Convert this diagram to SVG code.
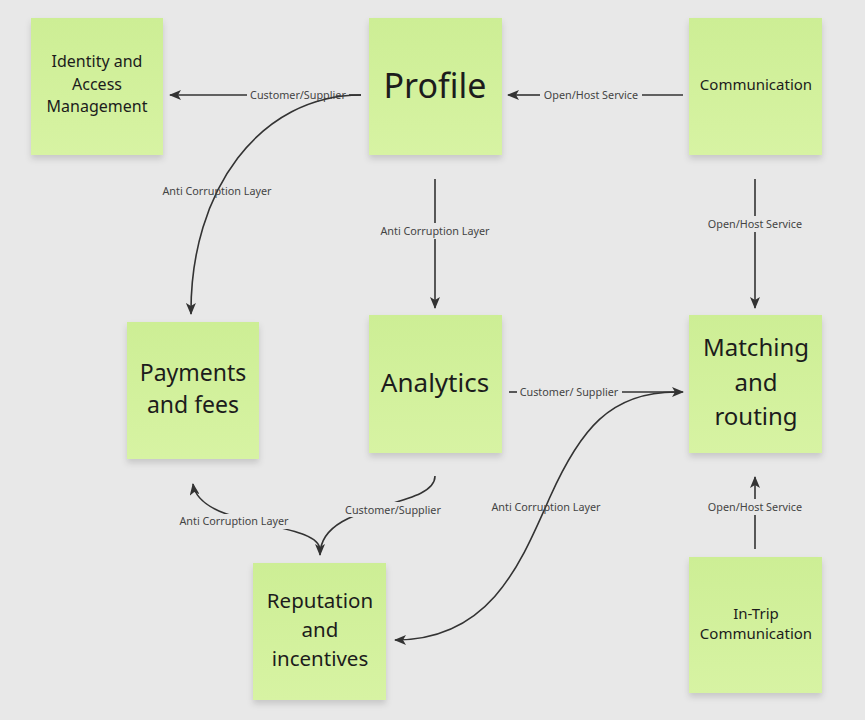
<svg xmlns="http://www.w3.org/2000/svg" width="865" height="720" viewBox="0 0 865 720">
<defs>
<linearGradient id="sg" x1="0" y1="0" x2="0" y2="1">
<stop offset="0" stop-color="#cdee95"/>
<stop offset="1" stop-color="#d7f3a3"/>
</linearGradient>
<filter id="sh" x="-20%" y="-20%" width="140%" height="150%">
<feDropShadow dx="0" dy="4" stdDeviation="3" flood-color="#000" flood-opacity="0.14"/>
</filter>
<marker id="ah" viewBox="0 0 12 10" refX="11" refY="5" markerWidth="12" markerHeight="10" markerUnits="userSpaceOnUse" orient="auto">
<path d="M0,0 L12,5 L0,10 L3,5 Z" fill="#333"/>
</marker>
<style>
.note{fill:url(#sg);filter:url(#sh)}
.nt{font-family:"Noto Sans",sans-serif;fill:#1c1c1c;text-anchor:middle;dominant-baseline:central}
.ln{fill:none;stroke:#333;stroke-width:1.6}
.lb{font-family:"Noto Sans",sans-serif;font-size:10.8px;fill:#444;text-anchor:middle;dominant-baseline:central}
.bg{fill:#e8e8e8}
</style>
</defs>
<rect width="865" height="720" fill="#e8e8e8"/>

<g id="node-identity"><rect class="note" x="31" y="18" width="132" height="137"/>
<text class="nt" font-size="16" x="97" y="61">Identity and</text>
<text class="nt" font-size="16" x="97" y="84">Access</text>
<text class="nt" font-size="16" x="97" y="106">Management</text></g>

<g id="node-profile"><rect class="note" x="369" y="18" width="133" height="137"/>
<text class="nt" font-size="34" x="435" y="84.5">Profile</text></g>

<g id="node-communication"><rect class="note" x="689" y="18" width="133" height="137"/>
<text class="nt" font-size="15" x="756" y="84">Communication</text></g>

<g id="node-payments"><rect class="note" x="127" y="322" width="132" height="137"/>
<text class="nt" font-size="23" x="193" y="372">Payments</text>
<text class="nt" font-size="23" x="193" y="404">and fees</text></g>

<g id="node-analytics"><rect class="note" x="369" y="315" width="133" height="138"/>
<text class="nt" font-size="26" x="435" y="381.5">Analytics</text></g>

<g id="node-matching"><rect class="note" x="689" y="315" width="133" height="138"/>
<text class="nt" font-size="24" x="756" y="346.5">Matching</text>
<text class="nt" font-size="24" x="756" y="381.5">and</text>
<text class="nt" font-size="24" x="756" y="415.5">routing</text></g>

<g id="node-reputation"><rect class="note" x="253" y="563" width="133" height="137"/>
<text class="nt" font-size="20.5" x="320" y="600">Reputation</text>
<text class="nt" font-size="20.5" x="320" y="629">and</text>
<text class="nt" font-size="20.5" x="320" y="658">incentives</text></g>

<g id="node-intrip"><rect class="note" x="689" y="557" width="133" height="136"/>
<text class="nt" font-size="15" x="756" y="613">In-Trip</text>
<text class="nt" font-size="15" x="756" y="633">Communication</text></g>

<g id="connectors">
<!-- Profile -> Identity -->
<path class="ln" d="M361,95 H349"/>
<path class="ln" d="M247,95 H170" marker-end="url(#ah)"/>
<text class="lb" x="298" y="94">Customer/Supplier</text>
<!-- Profile -> Payments -->
<path class="ln" d="M361,95 C260,95 190,190 191,314" marker-end="url(#ah)"/>
<text class="lb" x="217" y="190">Anti Corruption Layer</text>
<!-- Communication -> Profile -->
<path class="ln" d="M683,95 H642"/>
<path class="ln" d="M540,95 H508" marker-end="url(#ah)"/>
<text class="lb" x="591" y="94">Open/Host Service</text>
<!-- Profile -> Analytics -->
<path class="ln" d="M435,179 V223"/>
<path class="ln" d="M435,239 V308" marker-end="url(#ah)"/>
<text class="lb" x="435" y="230">Anti Corruption Layer</text>
<!-- Communication -> Matching -->
<path class="ln" d="M755,179 V216"/>
<path class="ln" d="M755,232 V308" marker-end="url(#ah)"/>
<text class="lb" x="755" y="223">Open/Host Service</text>
<!-- Analytics -> Matching -->
<path class="ln" d="M509,392 H517"/>
<path class="ln" d="M622,392 H683" marker-end="url(#ah)"/>
<text class="lb" x="569" y="391">Customer/ Supplier</text>
<!-- Matching <-> Reputation -->
<path class="ln" d="M676,392 C610,392 580,430 550,497 C520,565 490,640 395,640" marker-end="url(#ah)"/>
<text class="lb" x="546" y="506">Anti Corruption Layer</text>
<!-- In-Trip -> Matching -->
<path class="ln" d="M755,549 V515"/>
<path class="ln" d="M755,499 V477" marker-end="url(#ah)"/>
<text class="lb" x="755" y="506">Open/Host Service</text>
<!-- Analytics -> Reputation -->
<path class="ln" d="M435,476 C435,510 320,500 320,555" marker-end="url(#ah)"/>
<!-- Reputation -> Payments -->
<path class="ln" d="M320,550 C320,520 200,530 193,484" marker-end="url(#ah)"/>
<rect class="bg" x="344" y="502" width="98" height="15"/>
<text class="lb" x="393" y="509">Customer/Supplier</text>
<rect class="bg" x="178" y="514" width="114" height="15"/>
<text class="lb" x="234" y="520">Anti Corruption Layer</text>
</g>
</svg>
